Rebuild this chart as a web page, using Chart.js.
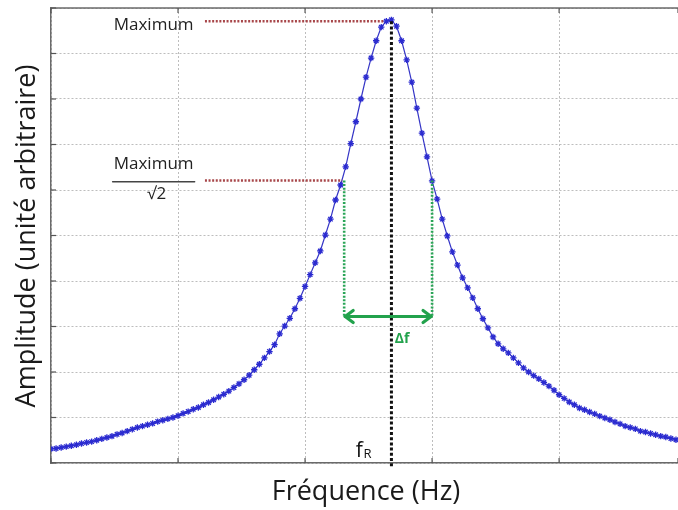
<!DOCTYPE html>
<html>
<head>
<meta charset="utf-8">
<script src="https://cdn.jsdelivr.net/npm/chart.js@4.4.1/dist/chart.umd.min.js"></script>
<style>
html,body{margin:0;padding:0;background:#fff;}
#wrap{width:678px;height:510px;position:relative;}
</style>
</head>
<body>
<div id="wrap"><canvas id="c" width="678" height="510"></canvas></div>
<script>
// ---- data ----
const frequencies = [0,1,2,3,4,5,6,7,8,9,10,11,12,13,14,15,16,17,18,19,20,21,22,23,24,25,26,27,28,29,30,31,32,33,34,35,36,37,38,39,40,41,42,43,44,45,46,47,48,49,50,51,52,53,54,55,56,57,58,59,60,61,62,63,64,65,66,67,68,69,70,71,72,73,74,75,76,77,78,79,80,81,82,83,84,85,86,87,88,89,90,91,92,93,94,95,96,97,98,99,100,101,102,103,104,105,106,107,108,109,110,111,112,113,114,115,116,117,118,119,120,121,122,123];
const amplitudes = [0.31,0.32,0.34,0.36,0.38,0.40,0.43,0.45,0.47,0.50,0.53,0.56,0.59,0.63,0.66,0.70,0.74,0.78,0.81,0.84,0.87,0.91,0.94,0.97,1.00,1.04,1.09,1.13,1.18,1.22,1.28,1.33,1.39,1.45,1.51,1.58,1.66,1.74,1.83,1.93,2.05,2.17,2.31,2.45,2.60,2.84,3.01,3.18,3.39,3.62,3.88,4.14,4.40,4.66,5.01,5.36,5.78,6.11,6.51,7.02,7.50,8.00,8.48,8.90,9.28,9.58,9.71,9.74,9.60,9.28,8.86,8.37,7.80,7.25,6.73,6.20,5.80,5.36,4.99,4.64,4.35,4.07,3.85,3.63,3.39,3.17,2.97,2.77,2.62,2.51,2.42,2.31,2.20,2.09,2.00,1.92,1.85,1.77,1.69,1.60,1.50,1.42,1.34,1.28,1.21,1.17,1.12,1.08,1.03,0.99,0.95,0.90,0.86,0.81,0.78,0.75,0.70,0.68,0.65,0.62,0.59,0.57,0.54,0.51];
const xTickStep = 25;          // vertical grid spacing (frequency units)
const yTicks = [0,1,2,3,4,5,6,7,8,9,10];
const xMax = 123.4;
// annotation values (data units)
const resonanceFreq = 67.0;
const maxLevel = 9.71;
const halfLevel = 6.21;
const dfBounds = [57.7, 75.0];
const arrowLevel = 3.22;
const maxLineStart = 30.3, maxLineEnd = 65.4, halfLineEnd = 57.3;
const labelMaxPos = [20.2, 9.62];
const labelFracPos = [20.2, 6.57, 6.18, 5.90];
const labelDfPos = [69.1, 2.73];
const labelFrPos = [60.0, 0.13];
const xTitle = "Fréquence (Hz)";
const yTitle = "Amplitude (unité arbitraire)";

const FONT = '"Open Sans", "Liberation Sans", sans-serif';

const annot = {
  id: 'annot',
  afterDatasetsDraw(chart) {
    const ctx = chart.ctx, xs = chart.scales.x, ys = chart.scales.y, ca = chart.chartArea;
    const X = v => xs.getPixelForValue(v), Y = v => ys.getPixelForValue(v);
    ctx.save();
    // top border
    ctx.strokeStyle = '#6a6a6a'; ctx.lineWidth = 1.5;
    ctx.beginPath(); ctx.moveTo(ca.left, ca.top); ctx.lineTo(ca.right, ca.top); ctx.stroke();
    // inner tick marks
    ctx.lineWidth = 1.2; ctx.strokeStyle = '#555';
    xs.ticks.forEach(t => {
      const px = X(t.value);
      ctx.beginPath(); ctx.moveTo(px, ca.bottom); ctx.lineTo(px, ca.bottom - 5); ctx.stroke();
      ctx.beginPath(); ctx.moveTo(px, ca.top); ctx.lineTo(px, ca.top + 5); ctx.stroke();
    });
    ys.ticks.forEach(t => {
      const py = Y(t.value);
      ctx.beginPath(); ctx.moveTo(ca.left, py); ctx.lineTo(ca.left + 5, py); ctx.stroke();
    });
    // red dotted lines
    ctx.strokeStyle = '#a8474a'; ctx.lineWidth = 2.6; ctx.setLineDash([2, 1.6]);
    ctx.beginPath(); ctx.moveTo(X(maxLineStart), Y(maxLevel)); ctx.lineTo(X(maxLineEnd), Y(maxLevel)); ctx.stroke();
    ctx.beginPath(); ctx.moveTo(X(maxLineStart), Y(halfLevel)); ctx.lineTo(X(halfLineEnd), Y(halfLevel)); ctx.stroke();
    // green dotted verticals
    ctx.strokeStyle = '#2aa557'; ctx.lineWidth = 2.6; ctx.setLineDash([2, 1.6]);
    dfBounds.forEach(f => {
      ctx.beginPath(); ctx.moveTo(X(f), Y(halfLevel)); ctx.lineTo(X(f), Y(arrowLevel)); ctx.stroke();
    });
    // black dotted fR line
    ctx.strokeStyle = '#111'; ctx.lineWidth = 3; ctx.setLineDash([3, 2.2]);
    ctx.beginPath(); ctx.moveTo(X(resonanceFreq), Y(maxLevel)); ctx.lineTo(X(resonanceFreq), ca.bottom + 5); ctx.stroke();
    ctx.setLineDash([]);
    // green double arrow
    const ax1 = X(dfBounds[0]), ax2 = X(dfBounds[1]), ay = Y(arrowLevel);
    ctx.strokeStyle = '#22a24c'; ctx.lineWidth = 3.2; ctx.lineCap = 'round'; ctx.lineJoin = 'round';
    ctx.beginPath(); ctx.moveTo(ax1 + 1, ay); ctx.lineTo(ax2 - 1, ay); ctx.stroke();
    ctx.beginPath(); ctx.moveTo(ax1 + 9, ay - 6); ctx.lineTo(ax1 + 1, ay); ctx.lineTo(ax1 + 9, ay + 6); ctx.stroke();
    ctx.beginPath(); ctx.moveTo(ax2 - 9, ay - 6); ctx.lineTo(ax2 - 1, ay); ctx.lineTo(ax2 - 9, ay + 6); ctx.stroke();
    // labels
    ctx.fillStyle = '#222'; ctx.textBaseline = 'middle'; ctx.textAlign = 'center';
    ctx.font = '17px ' + FONT;
    ctx.fillText('Maximum', X(labelMaxPos[0]), Y(labelMaxPos[1]));
    ctx.fillText('Maximum', X(labelFracPos[0]), Y(labelFracPos[1]));
    ctx.strokeStyle = '#444'; ctx.lineWidth = 1.5;
    ctx.beginPath(); ctx.moveTo(X(labelFracPos[0]) - 41, Y(labelFracPos[2])); ctx.lineTo(X(labelFracPos[0]) + 41, Y(labelFracPos[2])); ctx.stroke();
    ctx.fillText('√2', X(labelFracPos[0]) + 3, Y(labelFracPos[3]));
    ctx.fillStyle = '#22a24c'; ctx.font = 'bold 14px ' + FONT;
    ctx.fillText('Δf', X(labelDfPos[0]), Y(labelDfPos[1]));
    ctx.fillStyle = '#111'; ctx.textAlign = 'left'; ctx.textBaseline = 'alphabetic';
    ctx.font = '21px ' + FONT;
    const fx = X(labelFrPos[0]), fy = Y(labelFrPos[1]);
    ctx.fillText('f', fx, fy);
    const fw = ctx.measureText('f').width;
    ctx.font = '13px ' + FONT;
    ctx.fillText('R', fx + fw + 0.5, fy + 1);
    // axis titles
    ctx.fillStyle = '#1a1a1a'; ctx.textAlign = 'center'; ctx.textBaseline = 'middle';
    ctx.font = '27px ' + FONT;
    ctx.fillText(xTitle, 366, 492);
    ctx.save(); ctx.translate(27, 236); ctx.rotate(-Math.PI / 2);
    ctx.fillText(yTitle, 0, 0); ctx.restore();
    ctx.restore();
  }
};

new Chart(document.getElementById('c'), {
  type: 'line',
  data: {
    datasets: [{
      data: frequencies.map((f, i) => ({x: f, y: amplitudes[i]})),
      borderColor: '#3535c6',
      borderWidth: 1.2,
      pointStyle: 'star',
      pointRadius: 3.2,
      pointBorderWidth: 1.3,
      pointBorderColor: '#2b2bd0',
      pointBackgroundColor: '#2b2bd0',
      tension: 0
    }]
  },
  options: {
    responsive: false,
    animation: false,
    devicePixelRatio: 1,
    layout: {autoPadding: false, padding: {left: 51, top: 8, right: 0, bottom: 47}},
    plugins: {legend: {display: false}, tooltip: {enabled: false}},
    scales: {
      x: {
        type: 'linear', min: 0, max: xMax,
        ticks: {display: false, stepSize: xTickStep},
        grid: {color: '#bdbdbd', lineWidth: 1, drawTicks: false},
        border: {display: true, color: '#6a6a6a', width: 1.5, dash: [2, 2]}
      },
      y: {
        type: 'linear', min: yTicks[0], max: yTicks[yTicks.length - 1],
        afterBuildTicks: s => { s.ticks = yTicks.map(v => ({value: v})); },
        ticks: {display: false},
        grid: {color: '#bdbdbd', lineWidth: 1, drawTicks: false},
        border: {display: true, color: '#6a6a6a', width: 1.5, dash: [2, 2]}
      }
    }
  },
  plugins: [annot]
});
</script>
</body>
</html>
